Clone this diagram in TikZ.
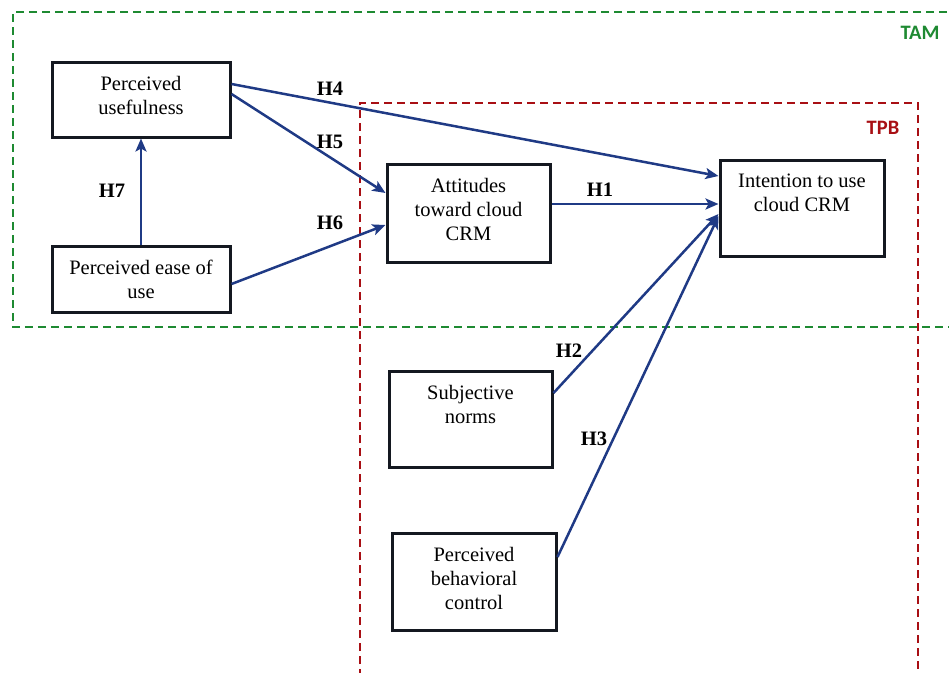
\documentclass[tikz,border=0pt]{standalone}
\usepackage{fontspec}
\setmainfont{Liberation Serif}
\newfontfamily\labelfont{Carlito}
\usetikzlibrary{arrows.meta}
\definecolor{tamgreen}{HTML}{1E8A32}
\definecolor{tpbred}{HTML}{A80F14}
\definecolor{pathblue}{HTML}{1F3A85}
\definecolor{boxline}{HTML}{141820}
\tikzset{
  construct/.style={draw=boxline, line width=3pt, fill=white, rectangle, inner sep=0pt},
  ctext/.style={align=center, font=\fontsize{20.5}{24}\selectfont, inner sep=0pt},
  hyp/.style={font=\fontsize{20.5}{24}\selectfont\bfseries, inner sep=0pt},
  path/.style={draw=pathblue, line width=2.5pt, -{Stealth[length=13pt,width=11pt,inset=3pt]}},
  frame/.style={line width=2.5pt, dash pattern=on 8pt off 5pt},
  framelabel/.style={font=\labelfont\fontsize{20.5}{24}\selectfont\bfseries, inner sep=0pt}
}
\begin{document}
\begin{tikzpicture}[x=1pt,y=-1pt]
\clip (0,0) rectangle (949,672);
\fill[white] (0,0) rectangle (949,672);

% model frames
\draw[frame, tamgreen] (960,12) -- (13,12) -- (13,327) -- (960,327);
\draw[frame, tpbred] (360,690) -- (360,103) -- (918,103) -- (918,690);
\node[framelabel, text=tamgreen] (tam) at (920,33) {TAM};
\node[framelabel, text=tpbred] (tpb) at (883,128) {TPB};

% constructs
\node[construct, minimum width=178pt, minimum height=75pt] (pu) at (141,99.5) {};
\node[ctext] at (141,95) {Perceived\\usefulness};
\node[construct, minimum width=178pt, minimum height=66pt] (peu) at (141,279) {};
\node[ctext] at (141,279) {Perceived ease of\\use};
\node[construct, minimum width=163pt, minimum height=98pt] (att) at (468.5,213) {};
\node[ctext] at (468.5,209) {Attitudes\\toward cloud\\CRM};
\node[construct, minimum width=164pt, minimum height=96pt] (int) at (802,208) {};
\node[ctext] at (802,193) {Intention to use\\cloud CRM};
\node[construct, minimum width=163pt, minimum height=96pt] (sn) at (470.5,419) {};
\node[ctext] at (470.5,404) {Subjective\\norms};
\node[construct, minimum width=164pt, minimum height=97pt] (pbc) at (474,581.5) {};
\node[ctext] at (474,578) {Perceived\\behavioral\\control};

% hypothesised paths (yshift is measured upwards)
\draw[path] ([yshift=15.5pt]pu.east) -- ([yshift=32pt]int.west);
\draw[path] ([yshift=5.5pt]pu.east) -- ([yshift=20pt]att.west);
\draw[path] ([yshift=-5pt]peu.east) -- ([yshift=-12pt]att.west);
\draw[path] (peu.north) -- (pu.south);
\draw[path] ([yshift=9pt]att.east) -- ([yshift=4pt]int.west);
\draw[path] ([yshift=26pt]sn.east) -- ([yshift=-6pt]int.west);
\draw[path] ([yshift=24.5pt]pbc.east) -- ([yshift=-8pt]int.west);

% path labels
\node[hyp] (h4) at (330,89) {H4};
\node[hyp] (h5) at (330,142) {H5};
\node[hyp] (h6) at (330,223) {H6};
\node[hyp] (h7) at (112,191) {H7};
\node[hyp] (h1) at (600,190) {H1};
\node[hyp] (h2) at (569,351) {H2};
\node[hyp] (h3) at (594,439) {H3};
\end{tikzpicture}
\end{document}
